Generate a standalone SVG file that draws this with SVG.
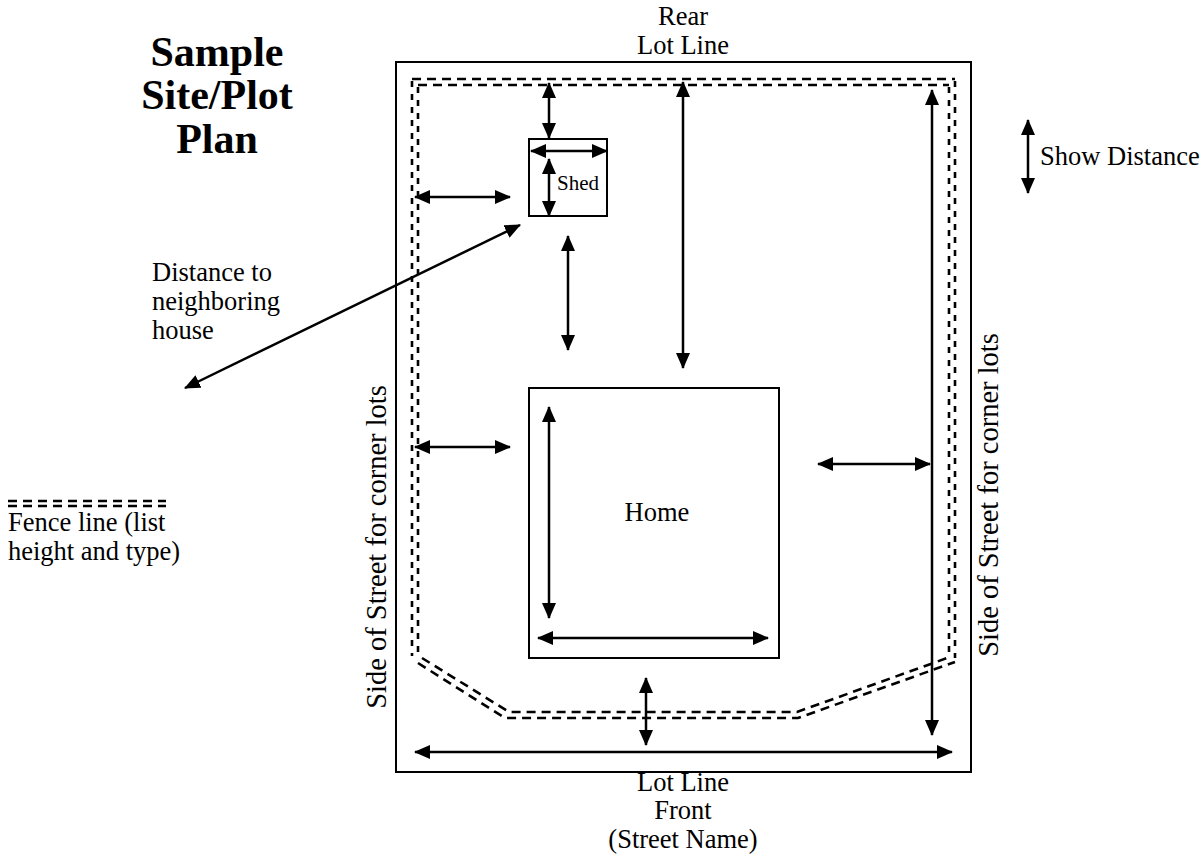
<svg xmlns="http://www.w3.org/2000/svg" width="1204" height="861" viewBox="0 0 1204 861">
<style>
  .t { font-family: "Liberation Serif", "Times New Roman", serif; font-size: 26.5px; fill: #000; }
  .side { font-size: 28.5px; }
  .title { font-family: "Liberation Serif", "Times New Roman", serif; font-size: 42px; font-weight: bold; fill: #000; }
  .box { fill: none; stroke: #000; stroke-width: 2; }
  .arr { fill: none; stroke: #000; stroke-width: 2.5; marker-start: url(#ah); marker-end: url(#ah); }
  .fence { fill: none; stroke: #000; stroke-width: 2.6; stroke-dasharray: 9 6; }
  .fv { stroke-dasharray: 6 7; }
</style>
<defs>
  <marker id="ah" viewBox="0 0 16 14" refX="15" refY="7" markerWidth="16" markerHeight="14" markerUnits="userSpaceOnUse" orient="auto-start-reverse">
    <path d="M0,0 L16,7 L0,14 Z" fill="#000"/>
  </marker>
</defs>
<rect width="1204" height="861" fill="#fff"/>

<g id="title">
  <text class="title" x="217" y="66" text-anchor="middle">Sample</text>
  <text class="title" x="217" y="109" text-anchor="middle">Site/Plot</text>
  <text class="title" x="217" y="153" text-anchor="middle">Plan</text>
</g>

<g id="lot">
  <rect class="box" x="396" y="62" width="575" height="710"/>
  <text class="t" x="683" y="25" text-anchor="middle">Rear</text>
  <text class="t" x="683" y="54" text-anchor="middle">Lot Line</text>
  <text class="t" x="683" y="791" text-anchor="middle">Lot Line</text>
  <text class="t" x="683" y="819" text-anchor="middle">Front</text>
  <text class="t" x="683" y="848" text-anchor="middle">(Street Name)</text>
  <text class="t side" transform="translate(386,547) rotate(-90)" text-anchor="middle">Side of Street for corner lots</text>
  <text class="t side" transform="translate(998,495) rotate(-90)" text-anchor="middle">Side of Street for corner lots</text>
</g>

<g id="fence">
  <path class="fence" d="M412,79 L955,79"/>
  <path class="fence" d="M418,85 L949,85"/>
  <path class="fence fv" d="M412,81 L412,656"/>
  <path class="fence fv" d="M418,87 L418,656"/>
  <path class="fence fv" d="M955,81 L955,658"/>
  <path class="fence fv" d="M949,87 L949,654"/>
  <path class="fence" d="M418,663 L505,718 L798,718 L955,662"/>
  <path class="fence" d="M422,658 L509,712 L797,712 L950,657"/>
</g>

<g id="shed">
  <rect class="box" x="529" y="139" width="78" height="77"/>
  <text class="t" x="557" y="190" style="font-size:21px">Shed</text>
</g>

<g id="home">
  <rect class="box" x="529" y="388" width="250" height="270"/>
  <text class="t" x="657" y="521" text-anchor="middle">Home</text>
</g>

<g id="legend">
  <line class="fence" x1="8" y1="501" x2="166" y2="501"/>
  <line class="fence" x1="8" y1="506" x2="166" y2="506"/>
  <text class="t" x="8" y="531">Fence line (list</text>
  <text class="t" x="8" y="560">height and type)</text>
  <text class="t" x="1040" y="165">Show Distance</text>
  <text class="t" x="152" y="281">Distance to</text>
  <text class="t" x="152" y="310">neighboring</text>
  <text class="t" x="152" y="339">house</text>
</g>

<g id="connectors">
  <line class="arr" x1="549" y1="83" x2="549" y2="138"/>
  <line class="arr" x1="531" y1="151" x2="607" y2="151"/>
  <line class="arr" x1="549" y1="159" x2="549" y2="216"/>
  <line class="arr" x1="415" y1="197" x2="510" y2="197"/>
  <line class="arr" x1="520" y1="225" x2="185" y2="388"/>
  <line class="arr" x1="568" y1="236" x2="568" y2="350"/>
  <line class="arr" x1="683" y1="82" x2="683" y2="368"/>
  <line class="arr" x1="415" y1="447" x2="510" y2="447"/>
  <line class="arr" x1="549" y1="407" x2="549" y2="618"/>
  <line class="arr" x1="538" y1="638" x2="768" y2="638"/>
  <line class="arr" x1="818" y1="464" x2="930" y2="464"/>
  <line class="arr" x1="932" y1="90" x2="932" y2="735"/>
  <line class="arr" x1="646" y1="678" x2="646" y2="745"/>
  <line class="arr" x1="415" y1="752" x2="952" y2="752"/>
  <line class="arr" x1="1028" y1="120" x2="1028" y2="193"/>
</g>
</svg>
